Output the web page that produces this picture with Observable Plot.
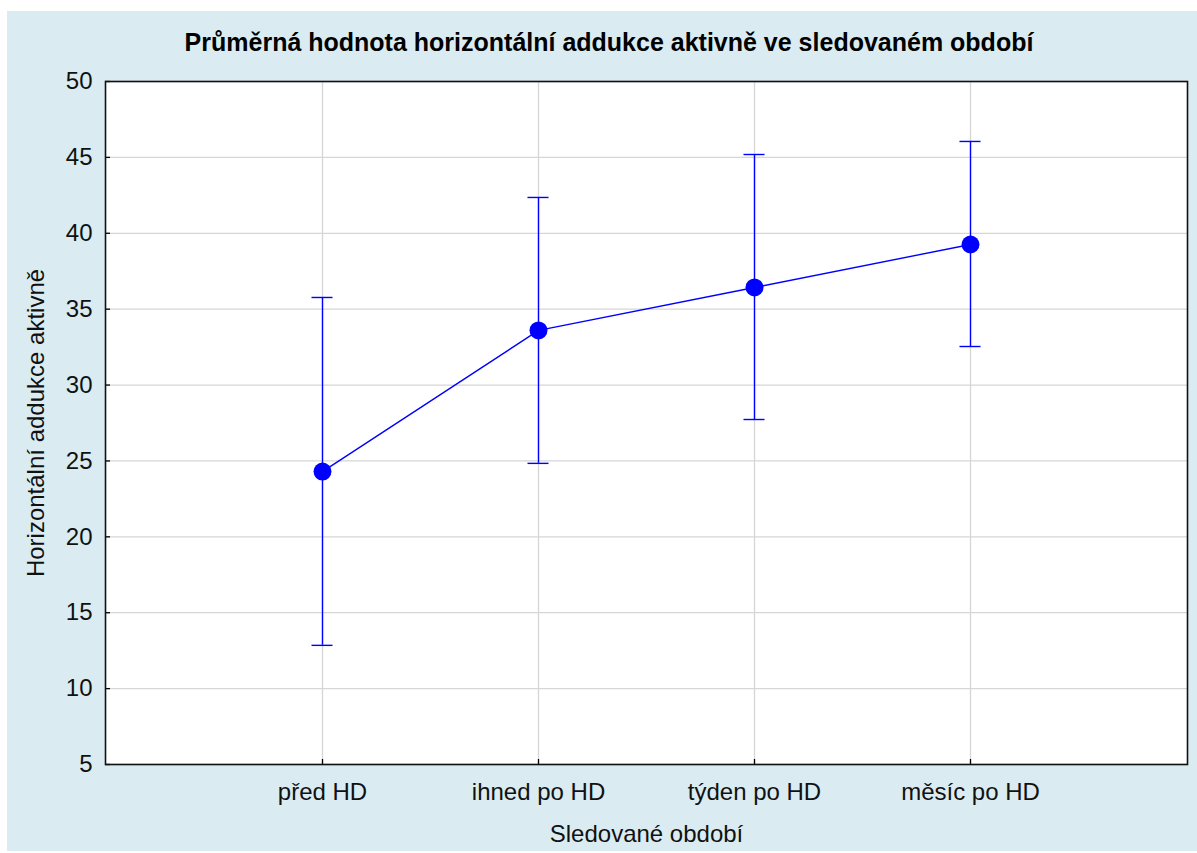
<!DOCTYPE html>
<html>
<head>
<meta charset="utf-8">
<script src="https://cdn.jsdelivr.net/npm/d3@7"></script>
<script src="https://cdn.jsdelivr.net/npm/@observablehq/plot@0.6"></script>
<style>
  html, body { margin: 0; padding: 0; background: #ffffff; }
  #fig { position: absolute; left: 7px; top: 11px; width: 1190px; height: 840px; background: #daecf2; font-family: "Liberation Sans", Arial, sans-serif; }
  #title { height: 45px; box-sizing: border-box; padding-top: 19px; font-size: 25px; line-height: 25px; font-weight: bold; text-align: center; color: #000; padding-left: 14px; white-space: nowrap; }
  #chart svg { display: block; }
</style>
</head>
<body>
<div id="fig">
  <div id="title">Průměrná hodnota horizontální addukce aktivně ve sledovaném období</div>
  <div id="chart"></div>
</div>
<script>
const categories = ["před HD", "ihned po HD", "týden po HD", "měsíc po HD"];
const means = [24.3, 33.6, 36.43, 39.26];
const upper = [35.77, 42.36, 45.19, 46.05];
const lower = [12.85, 24.84, 27.73, 32.54];
const yTicks = [5, 10, 15, 20, 25, 30, 35, 40, 45, 50];
const xTitle = "Sledované období";
const yTitle = "Horizontální addukce aktivně";

const data = categories.map((c, i) => ({cat: c, mean: means[i], hi: upper[i], lo: lower[i]}));
const blue = "#0000ff";

const plot = Plot.plot({
  width: 1190,
  height: 795,
  marginTop: 25,
  marginBottom: 87,
  marginLeft: 98,
  marginRight: 10,
  style: {background: "transparent", fontFamily: "'Liberation Sans', Arial, sans-serif", fontSize: "24px", color: "#111"},
  x: {type: "point", domain: categories, padding: 1},
  y: {domain: [5, 50]},
  marks: [
    Plot.frame({fill: "#ffffff", stroke: null}),
    Plot.gridX({stroke: "#d6d6d6", strokeOpacity: 1, strokeWidth: 1.3}),
    Plot.gridY(yTicks, {stroke: "#d6d6d6", strokeOpacity: 1, strokeWidth: 1.3}),
    Plot.axisY(yTicks, {tickSize: 0, tickPadding: 13, label: null, fontSize: 24}),
    Plot.axisY(yTicks, {tickSize: -5, tickFormat: () => "", label: null, stroke: "#000", strokeWidth: 1.3}),
    Plot.axisX({tickSize: 0, tickPadding: 18, label: null, fontSize: 24}),
    Plot.axisX({tickSize: -5, tickFormat: () => "", label: null, stroke: "#000", strokeWidth: 1.3}),
    Plot.frame({stroke: "#111", strokeWidth: 1.6}),
    Plot.ruleX(data, {x: "cat", y1: "lo", y2: "hi", stroke: blue, strokeWidth: 1.4}),
    Plot.ruleY(data, {x1: "cat", x2: "cat", y: "hi", insetLeft: -10.5, insetRight: -10.5, stroke: blue, strokeWidth: 1.4}),
    Plot.ruleY(data, {x1: "cat", x2: "cat", y: "lo", insetLeft: -10.5, insetRight: -10.5, stroke: blue, strokeWidth: 1.4}),
    Plot.line(data, {x: "cat", y: "mean", stroke: blue, strokeWidth: 1.4}),
    Plot.dot(data, {x: "cat", y: "mean", r: 9, fill: blue, stroke: null}),
    Plot.text([xTitle], {text: d => d, frameAnchor: "bottom", textAnchor: "middle", dy: 77, fontSize: 24, fill: "#111"}),
    Plot.text([yTitle], {text: d => d, frameAnchor: "left", textAnchor: "middle", lineAnchor: "middle", rotate: -90, dx: -69, fontSize: 24, fill: "#111"})
  ]
});
document.getElementById("chart").appendChild(plot);
</script>
</body>
</html>
